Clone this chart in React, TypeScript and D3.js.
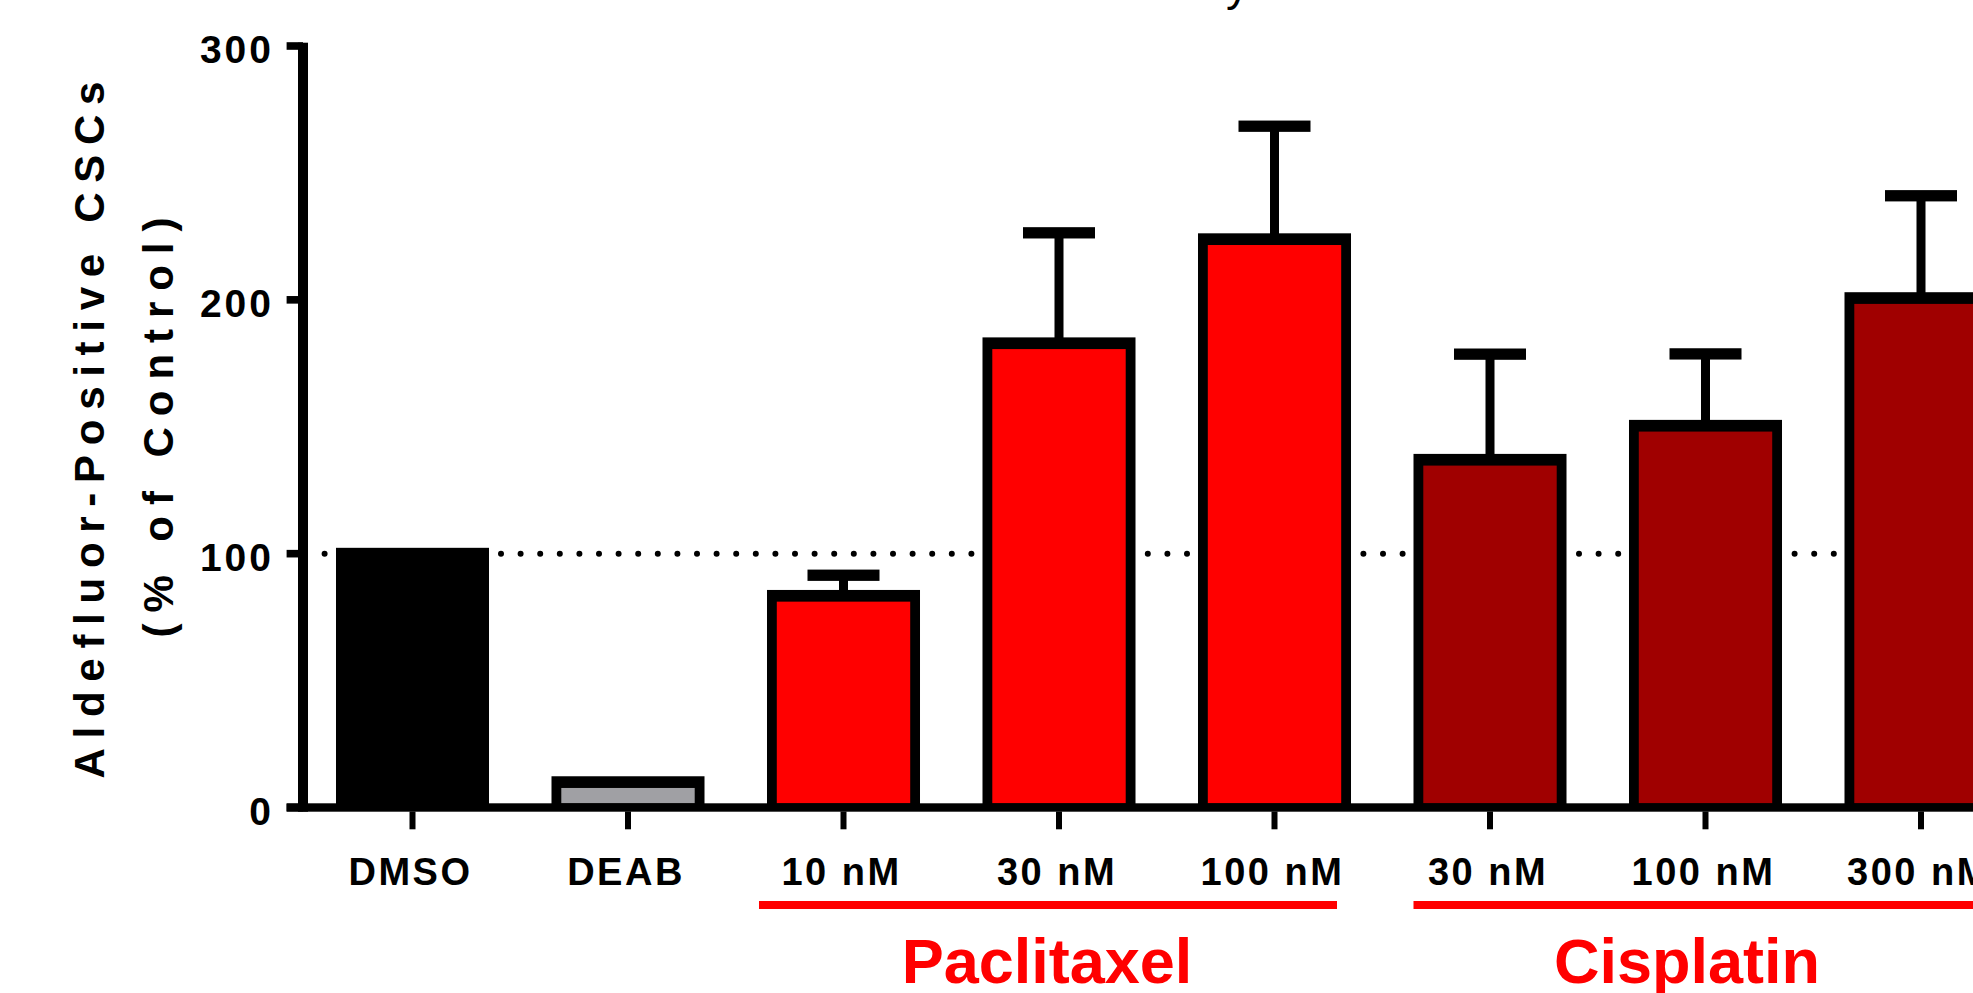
import React from "react";
import * as d3 from "d3";

// ---- data ----
const categories = ["DMSO", "DEAB", "10 nM", "30 nM", "100 nM", "30 nM", "100 nM", "300 nM"];
const treatment = ["vehicle", "inhibitor", "paclitaxel", "paclitaxel", "paclitaxel", "cisplatin", "cisplatin", "cisplatin"];
const means = [100, 10, 83.4, 182.9, 223.9, 137.0, 150.4, 200.7];
const sems = [0, 0, 8.1, 43.5, 44.5, 41.6, 28.3, 40.3];
const yTicks = [0, 100, 200, 300];
const controlLevel = 100;
const groupNames = ["Paclitaxel", "Cisplatin"];
const groupFirst = [2, 5];
const groupLast = [4, 7];
const yTitleLines = ["Aldefluor-Positive CSCs", "(% of Control)"];
const clippedTitleTail = "y";

// ---- styles ----
const W = 1973;
const H = 993;
const FONT = "'Liberation Sans', Arial, Helvetica, sans-serif";
const colorOf: Record<string, string> = {
  vehicle: "#000000",
  inhibitor: "#a0a0a4",
  paclitaxel: "#ff0000",
  cisplatin: "#a00000",
};

export default function App() {
  const idx = d3.range(categories.length);
  const step = 215.5;
  const x0 = 412.5 - step / 2;
  const x = d3
    .scaleBand<number>()
    .domain(idx)
    .range([x0, x0 + step * categories.length])
    .paddingInner(0.29)
    .paddingOuter(0.145);
  const y = d3.scaleLinear().domain([0, 300]).range([807.5, 46]);
  const bw = x.bandwidth();
  const cx = (i: number) => (x(i) as number) + bw / 2;

  const axisX = 303;
  const base = y(0);
  const sideB = 9.8;
  const topB = 11.7;

  // group line offsets
  const lineStartOff = [-8, 0];
  const lineEndOff = [-14, 60];
  const labelOff = [-12, -18.5];

  return (
    <svg
      width={W}
      height={H}
      style={{ position: "absolute", left: 0, top: 0, display: "block", background: "#fff" }}
      fontFamily={FONT}
      fontWeight="bold"
    >
      <rect x={0} y={0} width={W} height={H} fill="#fff" />

      {/* remnant of a clipped title above the frame */}
      <text x={1226} y={0} fontSize={46} fontWeight="normal" fill="#000">
        {clippedTitleTail}
      </text>

      {/* dotted control line */}
      <line
        x1={324.6}
        x2={W + 10}
        y1={y(controlLevel)}
        y2={y(controlLevel)}
        stroke="#000"
        strokeWidth={6}
        strokeLinecap="round"
        strokeDasharray="0 19.6"
      />

      {/* bars */}
      {idx.map((i) => {
        const xl = x(i) as number;
        const top = y(means[i]);
        return (
          <g key={"bar" + i}>
            <rect x={xl} y={top - topB / 2} width={bw} height={base - (top - topB / 2)} fill="#000" />
            <rect
              x={xl + sideB}
              y={top + topB / 2}
              width={bw - 2 * sideB}
              height={Math.max(0, base - 4.2 - (top + topB / 2))}
              fill={colorOf[treatment[i]]}
            />
          </g>
        );
      })}

      {/* error bars */}
      {idx
        .filter((i) => sems[i] > 0)
        .map((i) => {
          const c = cx(i);
          const yt = y(means[i] + sems[i]);
          const yb = y(means[i]);
          return (
            <g key={"err" + i}>
              <rect x={c - 4.5} y={yt} width={9} height={yb - yt} fill="#000" />
              <rect x={c - 36} y={yt - 5.65} width={72} height={11.3} fill="#000" />
            </g>
          );
        })}

      {/* y axis */}
      <rect x={298} y={y(300) - 3.3} width={10} height={811.7 - (y(300) - 3.3)} fill="#000" />
      {yTicks.map((t) => (
        <g key={"yt" + t}>
          <rect x={286.6} y={y(t) - 3.8} width={axisX - 286.6} height={7.6} fill="#000" />
          <text
            x={274}
            y={y(t) + 17}
            textAnchor="end"
            fontSize={39}
            letterSpacing={3}
            fill="#000"
          >
            {t}
          </text>
        </g>
      ))}

      {/* x axis baseline */}
      <rect x={286.6} y={base - 4.2} width={W - 286.6 + 10} height={8.4} fill="#000" />
      {idx.map((i) => (
        <g key={"xt" + i}>
          <rect x={cx(i) - 3} y={base + 4} width={6} height={829.3 - (base + 4)} fill="#000" />
          <text x={cx(i) - 2} y={885} textAnchor="middle" fontSize={38} letterSpacing={2.5} fill="#000">
            {categories[i]}
          </text>
        </g>
      ))}

      {/* group annotations */}
      {groupNames.map((g, k) => {
        const xs = (x(groupFirst[k]) as number) + lineStartOff[k];
        const xe = (x(groupLast[k]) as number) + bw + lineEndOff[k];
        const mid = cx(Math.round((groupFirst[k] + groupLast[k]) / 2)) + labelOff[k];
        return (
          <g key={"grp" + g}>
            <rect x={xs} y={901} width={xe - xs} height={8} fill="#ff0000" />
            <text x={mid} y={983} textAnchor="middle" fontSize={63} fill="#ff0000">
              {g}
            </text>
          </g>
        );
      })}

      {/* y title */}
      <g transform={`translate(104,430) rotate(-90)`}>
        <text
          x={0}
          y={0}
          textAnchor="middle"
          fontSize={42}
          textLength={697}
          lengthAdjust="spacing"
          fill="#000"
        >
          {yTitleLines[0]}
        </text>
      </g>
      <g transform={`translate(173,427.5) rotate(-90)`}>
        <text
          x={0}
          y={0}
          textAnchor="middle"
          fontSize={42}
          textLength={420}
          lengthAdjust="spacing"
          fill="#000"
        >
          {yTitleLines[1]}
        </text>
      </g>
    </svg>
  );
}
